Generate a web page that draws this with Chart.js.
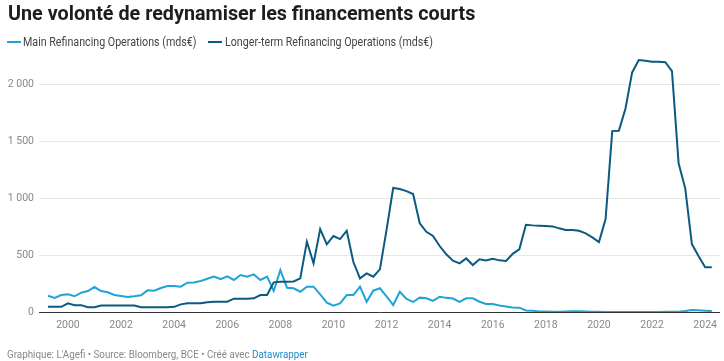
<!DOCTYPE html>
<html lang="fr">
<head>
<meta charset="utf-8">
<script src="https://cdn.jsdelivr.net/npm/chart.js@4.4.1/dist/chart.umd.min.js"></script>
<style>
  html, body { margin: 0; padding: 0; background: #fff; }
  body { width: 724px; height: 361px; position: relative; overflow: hidden; font-family: Roboto, "Noto Sans", sans-serif; }
  #title { position: absolute; left: 8px; top: 1px; font-weight: 700; font-size: 21px; line-height: 24.6px; color: #1d1d1d; white-space: nowrap; transform: scaleX(0.941); transform-origin: 0 0; }
  #legend { position: absolute; left: 0; top: 35px; font-size: 12px; line-height: 14px; color: #444; white-space: nowrap; }
  .item { position: absolute; top: 0; }
  .sw { position: absolute; top: 6px; width: 14px; height: 2px; }
  .lbl { position: absolute; top: 0; transform: scaleX(0.89); transform-origin: 0 0; }
  #footer { position: absolute; left: 7px; top: 349px; font-size: 10px; line-height: 12px; color: #888; white-space: nowrap; transform: scaleX(0.98); transform-origin: 0 0; }
  #footer a { color: #1d8bc6; text-decoration: none; }
  #wrap { position: absolute; left: 0; top: 0; width: 724px; height: 361px; }
</style>
</head>
<body>
<div id="wrap"><canvas id="c" width="724" height="361"></canvas></div>
<div id="title">Une volonté de redynamiser les financements courts</div>
<div id="legend">
  <div class="item" style="left:7px"><div class="sw" style="left:0;background:#1ea5d6"></div><div class="lbl" style="left:16px">Main Refinancing Operations (mds€)</div></div>
  <div class="item" style="left:208px"><div class="sw" style="left:0;background:#0b5a82"></div><div class="lbl" style="left:17px">Longer-term Refinancing Operations (mds€)</div></div>
</div>
<div id="footer">Graphique: L'Agefi • Source: Bloomberg, BCE • Créé avec <a>Datawrapper</a></div>
<script>
const quarters = [
  1999.25, 1999.5, 1999.75,
  2000, 2000.25, 2000.5, 2000.75,
  2001, 2001.25, 2001.5, 2001.75,
  2002, 2002.25, 2002.5, 2002.75,
  2003, 2003.25, 2003.5, 2003.75,
  2004, 2004.25, 2004.5, 2004.75,
  2005, 2005.25, 2005.5, 2005.75,
  2006, 2006.25, 2006.5, 2006.75,
  2007, 2007.25, 2007.5, 2007.75,
  2008, 2008.25, 2008.5, 2008.75,
  2009, 2009.25, 2009.5, 2009.75,
  2010, 2010.25, 2010.5, 2010.75,
  2011, 2011.25, 2011.5, 2011.75,
  2012, 2012.25, 2012.5, 2012.75,
  2013, 2013.25, 2013.5, 2013.75,
  2014, 2014.25, 2014.5, 2014.75,
  2015, 2015.25, 2015.5, 2015.75,
  2016, 2016.25, 2016.5, 2016.75,
  2017, 2017.25, 2017.5, 2017.75,
  2018, 2018.25, 2018.5, 2018.75,
  2019, 2019.25, 2019.5, 2019.75,
  2020, 2020.25, 2020.5, 2020.75,
  2021, 2021.25, 2021.5, 2021.75,
  2022, 2022.25, 2022.5, 2022.75,
  2023, 2023.25, 2023.5, 2023.75,
  2024, 2024.25
];
const mro = [
  143, 123, 149,
  155, 138, 169, 184,
  219, 184, 173, 149,
  140, 132, 138, 146,
  190, 187, 210, 228,
  228, 222, 257, 259,
  272, 292, 310, 289,
  313, 281, 324, 310,
  330, 281, 310, 184,
  368, 213, 208, 178,
  222, 222, 155, 82,
  55, 76, 149, 149,
  222, 90, 187, 208,
  137, 61, 178, 115,
  88, 126, 120, 97,
  134, 124, 118, 88,
  120, 120, 90, 70,
  70, 57, 48, 40,
  38, 13, 11, 5,
  4, 3, 3, 4,
  6, 6, 4, 3,
  2, 1, 1, 1,
  1, 0, 0, 1,
  1, 1, 2, 2,
  3, 8, 18, 15,
  12, 8
];
const ltro = [
  45, 45, 45,
  76, 60, 60, 42,
  42, 57, 57, 57,
  57, 57, 57, 42,
  42, 42, 42, 42,
  45, 67, 76, 76,
  76, 85, 90, 90,
  90, 117, 117, 117,
  120, 149, 149, 260,
  266, 266, 268, 295,
  617, 427, 728, 594,
  667, 640, 713, 438,
  295, 339, 310, 374,
  720, 1088, 1079, 1061,
  1035, 778, 704, 667,
  579, 506, 450, 427,
  470, 412, 462, 452,
  466, 453, 448, 510,
  550, 765, 760, 757,
  754, 751, 734, 719,
  719, 713, 690, 655,
  614, 815, 1587, 1590,
  1786, 2102, 2210, 2204,
  2195, 2195, 2192, 2114,
  1304, 1085, 596, 491,
  392, 392
];
const xTicks = [2000, 2002, 2004, 2006, 2008, 2010, 2012, 2014, 2016, 2018, 2020, 2022, 2024];
const yTicks = [0, 500, 1000, 1500, 2000];

const seriesNames = ['Main Refinancing Operations (mds€)', 'Longer-term Refinancing Operations (mds€)'];

function fmt(v) {
  return String(v).replace(/\B(?=(\d{3})+(?!\d))/g, ' ');
}

new Chart(document.getElementById('c'), {
  type: 'line',
  data: {
    datasets: [
      {
        label: seriesNames[0],
        data: quarters.map((q, i) => ({ x: q, y: mro[i] })),
        borderColor: '#1ea5d6',
        borderWidth: 2,
        pointRadius: 0,
        tension: 0,
        order: 1
      },
      {
        label: seriesNames[1],
        data: quarters.map((q, i) => ({ x: q, y: ltro[i] })),
        borderColor: '#0b5a82',
        borderWidth: 2,
        pointRadius: 0,
        tension: 0,
        order: 0
      }
    ]
  },
  options: {
    responsive: false,
    animation: false,
    devicePixelRatio: 1,
    layout: { padding: { top: 56, right: 2, bottom: 29, left: 0 } },
    plugins: { legend: { display: false }, tooltip: { enabled: false } },
    scales: {
      x: {
        type: 'linear',
        min: 1998.91,
        max: 2024.56,
        afterBuildTicks: (s) => { s.ticks = xTicks.map(v => ({ value: v })); },
        afterFit: (s) => { s.height = 20; },
        grid: { display: false, drawTicks: false },
        border: { display: false },
        ticks: {
          autoSkip: false,
          maxRotation: 0,
          padding: 7,
          color: '#888',
          font: { family: 'Roboto', size: 10.5 },
          callback: (v) => String(v)
        }
      },
      y: {
        min: 0,
        max: 2246,
        afterBuildTicks: (s) => { s.ticks = yTicks.map(v => ({ value: v })); },
        afterFit: (s) => { s.width = 39; },
        grid: {
          drawTicks: false,
          lineWidth: 1,
          color: (c) => (c.tick && c.tick.value === 0) ? '#333' : '#e6e6e6'
        },
        border: { display: false },
        ticks: {
          padding: 5,
          color: '#888',
          font: { family: 'Roboto', size: 10.5 },
          callback: (v) => fmt(v)
        }
      }
    }
  }
});
</script>
</body>
</html>
